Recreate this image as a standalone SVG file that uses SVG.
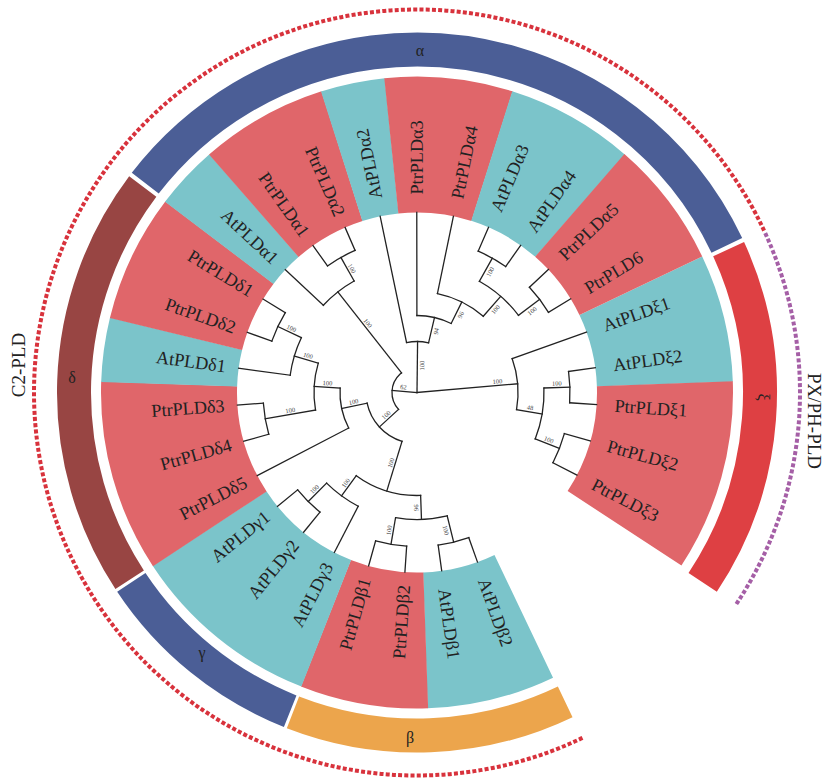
<svg xmlns="http://www.w3.org/2000/svg" width="823" height="780" viewBox="0 0 823 780">
<style>
.r{stroke:#e0666a;fill:none}
.c{stroke:#7bc4ca;fill:none}
.sec{stroke-width:136}
.band{stroke-width:34;fill:none}
.br line,.br circle{stroke:#222;stroke-width:1.3;fill:none;stroke-linecap:square}
.lf{font-family:"Liberation Serif",serif;font-size:18.2px;fill:#222;dominant-baseline:central}
.sp{font-family:"Liberation Serif",serif;font-size:6.5px;fill:#444;text-anchor:middle;dominant-baseline:central}
.bl{font-family:"Liberation Serif",serif;font-size:16px;fill:#222;text-anchor:middle;dominant-baseline:central}
.ot{font-family:"Liberation Serif",serif;font-size:19px;fill:#222;text-anchor:middle;dominant-baseline:central}
.dot{fill:none;stroke-width:4;stroke-dasharray:4 2.2}
</style>
<rect width="823" height="780" fill="#fff"/>
<!-- outer dotted arcs -->
<path class="dot" stroke="#d8323c" d="M582.5,737.9 A383,383 0 1 1 764.1,230.6"/>
<path class="dot" stroke="#a55fa6" d="M765.2,233.1 A383,383 0 0 1 735.3,605.6"/>
<text class="ot" transform="translate(18,365) rotate(-90)">C2-PLD</text>
<text class="ot" transform="translate(814,421) rotate(90)">PX/PH-PLD</text>
<!-- clade bands -->
<g id="bands" transform="translate(417,392.5)">
<circle class="band" r="343" stroke="#4b5e96" pathLength="360" stroke-dasharray="117.0 360" transform="rotate(217.6)"/>
<circle class="band" r="343" stroke="#984543" pathLength="360" stroke-dasharray="70.0 360" transform="rotate(146.9)"/>
<circle class="band" r="343" stroke="#4b5e96" pathLength="360" stroke-dasharray="34.7 360" transform="rotate(111.7)"/>
<circle class="band" r="343" stroke="#eca54c" pathLength="360" stroke-dasharray="46.8 360" transform="rotate(64.4)"/>
<circle class="band" r="343" stroke="#de4043" pathLength="360" stroke-dasharray="58.3 360" transform="rotate(-24.7)"/>
</g>
<g id="band-labels">
<text class="bl" x="420" y="50">α</text>
<text class="bl" x="72" y="377">δ</text>
<text class="bl" x="202" y="652">γ</text>
<text class="bl" x="410" y="737">β</text>
<text class="bl" transform="translate(763,397) rotate(90)">ξ</text>
</g>
<!-- colored sectors -->
<g id="sectors" transform="translate(417,392.5)">
<circle class="c sec" r="248" pathLength="360" stroke-dasharray="23.58 360" transform="rotate(-25.5)"/>
<circle class="r sec" r="248" pathLength="360" stroke-dasharray="35.22 360" transform="rotate(-2.02)"/>
<circle class="c sec" r="248" pathLength="360" stroke-dasharray="23.58 360" transform="rotate(64.5)"/>
<circle class="r sec" r="248" pathLength="360" stroke-dasharray="23.58 360" transform="rotate(87.98)"/>
<circle class="c sec" r="248" pathLength="360" stroke-dasharray="35.31 360" transform="rotate(111.46)"/>
<circle class="r sec" r="248" pathLength="360" stroke-dasharray="35.32 360" transform="rotate(146.67)"/>
<circle class="c sec" r="248" pathLength="360" stroke-dasharray="11.84 360" transform="rotate(181.89)"/>
<circle class="r sec" r="248" pathLength="360" stroke-dasharray="23.58 360" transform="rotate(193.63)"/>
<circle class="c sec" r="248" pathLength="360" stroke-dasharray="11.84 360" transform="rotate(217.11)"/>
<circle class="r sec" r="248" pathLength="360" stroke-dasharray="23.57 360" transform="rotate(228.85)"/>
<circle class="c sec" r="248" pathLength="360" stroke-dasharray="11.84 360" transform="rotate(252.32)"/>
<circle class="r sec" r="248" pathLength="360" stroke-dasharray="23.58 360" transform="rotate(264.06)"/>
<circle class="c sec" r="248" pathLength="360" stroke-dasharray="23.58 360" transform="rotate(287.54)"/>
<circle class="r sec" r="248" pathLength="360" stroke-dasharray="23.48 360" transform="rotate(311.02)"/>
</g>
<!-- leaves -->
<g transform="translate(417,392.5)">
<g id="AtPLDxi1"><text class="lf" x="198" transform="rotate(-19.63)">AtPLDξ1</text></g>
<g id="AtPLDxi2"><text class="lf" x="198" transform="rotate(-7.89)">AtPLDξ2</text></g>
<g id="PtrPLDxi1"><text class="lf" x="198" transform="rotate(3.85)">PtrPLDξ1</text></g>
<g id="PtrPLDxi2"><text class="lf" x="198" transform="rotate(15.59)">PtrPLDξ2</text></g>
<g id="PtrPLDxi3"><text class="lf" x="198" transform="rotate(27.33)">PtrPLDξ3</text></g>
<g id="AtPLDbeta2"><text class="lf" x="198" transform="rotate(70.37)">AtPLDβ2</text></g>
<g id="AtPLDbeta1"><text class="lf" x="198" transform="rotate(82.11)">AtPLDβ1</text></g>
<g id="PtrPLDbeta2"><text class="lf" x="-193" text-anchor="end" transform="rotate(-86.15)">PtrPLDβ2</text></g>
<g id="PtrPLDbeta1"><text class="lf" x="-193" text-anchor="end" transform="rotate(-74.41)">PtrPLDβ1</text></g>
<g id="AtPLDgamma3"><text class="lf" x="-193" text-anchor="end" transform="rotate(-62.67)">AtPLDγ3</text></g>
<g id="AtPLDgamma2"><text class="lf" x="-193" text-anchor="end" transform="rotate(-50.94)">AtPLDγ2</text></g>
<g id="AtPLDgamma1"><text class="lf" x="-193" text-anchor="end" transform="rotate(-39.2)">AtPLDγ1</text></g>
<g id="PtrPLDdelta5"><text class="lf" x="-193" text-anchor="end" transform="rotate(-27.46)">PtrPLDδ5</text></g>
<g id="PtrPLDdelta4"><text class="lf" x="-193" text-anchor="end" transform="rotate(-15.72)">PtrPLDδ4</text></g>
<g id="PtrPLDdelta3"><text class="lf" x="-193" text-anchor="end" transform="rotate(-3.98)">PtrPLDδ3</text></g>
<g id="AtPLDdelta1"><text class="lf" x="-193" text-anchor="end" transform="rotate(7.76)">AtPLDδ1</text></g>
<g id="PtrPLDdelta2"><text class="lf" x="-193" text-anchor="end" transform="rotate(19.5)">PtrPLDδ2</text></g>
<g id="PtrPLDdelta1"><text class="lf" x="-193" text-anchor="end" transform="rotate(31.24)">PtrPLDδ1</text></g>
<g id="AtPLDalpha1"><text class="lf" x="-193" text-anchor="end" transform="rotate(42.98)">AtPLDα1</text></g>
<g id="PtrPLDalpha1"><text class="lf" x="-193" text-anchor="end" transform="rotate(54.72)">PtrPLDα1</text></g>
<g id="PtrPLDalpha2"><text class="lf" x="-193" text-anchor="end" transform="rotate(66.46)">PtrPLDα2</text></g>
<g id="AtPLDalpha2"><text class="lf" x="198" transform="rotate(258.19)">AtPLDα2</text></g>
<g id="PtrPLDalpha3"><text class="lf" x="198" transform="rotate(269.93)">PtrPLDα3</text></g>
<g id="PtrPLDalpha4"><text class="lf" x="198" transform="rotate(281.67)">PtrPLDα4</text></g>
<g id="AtPLDalpha3"><text class="lf" x="198" transform="rotate(293.41)">AtPLDα3</text></g>
<g id="AtPLDalpha4"><text class="lf" x="198" transform="rotate(305.15)">AtPLDα4</text></g>
<g id="PtrPLDalpha5"><text class="lf" x="198" transform="rotate(316.89)">PtrPLDα5</text></g>
<g id="PtrPLD6"><text class="lf" x="198" transform="rotate(328.63)">PtrPLD6</text></g>
</g>
<!-- tree connectors -->
<g id="connectors" class="br" transform="translate(417,392.5)">
<line x1="0" x2="101" transform="rotate(-4.94)"/>
<circle r="101" pathLength="360" stroke-dasharray="29.38 360" transform="rotate(-19.63)"/>
<line x1="101" x2="180" transform="rotate(-19.63)"/>
<line x1="101" x2="127" transform="rotate(9.75)"/>
<circle r="127" pathLength="360" stroke-dasharray="23.48 360" transform="rotate(-2.02)"/>
<line x1="127" x2="153" transform="rotate(-2.02)"/>
<circle r="153" pathLength="360" stroke-dasharray="11.74 360" transform="rotate(-7.89)"/>
<line x1="153" x2="180" transform="rotate(-7.89)"/>
<line x1="153" x2="180" transform="rotate(3.85)"/>
<line x1="127" x2="153" transform="rotate(21.46)"/>
<circle r="153" pathLength="360" stroke-dasharray="11.74 360" transform="rotate(15.59)"/>
<line x1="153" x2="180" transform="rotate(15.59)"/>
<line x1="153" x2="180" transform="rotate(27.33)"/>
<line x1="0" x2="51" transform="rotate(270.66)"/>
<circle r="51" pathLength="360" stroke-dasharray="24.95 360" transform="rotate(258.19)"/>
<line x1="51" x2="180" transform="rotate(258.19)"/>
<line x1="51" x2="77" transform="rotate(283.14)"/>
<circle r="77" pathLength="360" stroke-dasharray="26.42 360" transform="rotate(269.93)"/>
<line x1="77" x2="180" transform="rotate(269.93)"/>
<line x1="77" x2="101" transform="rotate(296.35)"/>
<circle r="101" pathLength="360" stroke-dasharray="29.35 360" transform="rotate(281.67)"/>
<line x1="101" x2="180" transform="rotate(281.67)"/>
<line x1="101" x2="127.5" transform="rotate(311.02)"/>
<circle r="127.5" pathLength="360" stroke-dasharray="23.48 360" transform="rotate(299.28)"/>
<line x1="127.5" x2="154" transform="rotate(299.28)"/>
<line x1="127.5" x2="154" transform="rotate(322.76)"/>
<circle r="154" pathLength="360" stroke-dasharray="11.74 360" transform="rotate(293.41)"/>
<line x1="154" x2="180" transform="rotate(293.41)"/>
<line x1="154" x2="180" transform="rotate(305.15)"/>
<circle r="154" pathLength="360" stroke-dasharray="11.74 360" transform="rotate(316.89)"/>
<line x1="154" x2="180" transform="rotate(316.89)"/>
<line x1="154" x2="180" transform="rotate(328.63)"/>
<line x1="0" x2="25" transform="rotate(184.65)"/>
<circle r="25" pathLength="360" stroke-dasharray="94.29 360" transform="rotate(137.5)"/>
<line x1="25" x2="128" transform="rotate(231.79)"/>
<circle r="128" pathLength="360" stroke-dasharray="17.61 360" transform="rotate(222.98)"/>
<line x1="128" x2="180" transform="rotate(222.98)"/>
<line x1="128" x2="155" transform="rotate(240.59)"/>
<circle r="155" pathLength="360" stroke-dasharray="11.74 360" transform="rotate(234.72)"/>
<line x1="155" x2="180" transform="rotate(234.72)"/>
<line x1="155" x2="180" transform="rotate(246.46)"/>
<line x1="25" x2="51" transform="rotate(137.5)"/>
<circle r="51" pathLength="360" stroke-dasharray="60.89 360" transform="rotate(107.06)"/>
<line x1="51" x2="77" transform="rotate(167.95)"/>
<circle r="77" pathLength="360" stroke-dasharray="30.82 360" transform="rotate(152.54)"/>
<line x1="77" x2="180" transform="rotate(152.54)"/>
<line x1="77" x2="103" transform="rotate(183.36)"/>
<circle r="103" pathLength="360" stroke-dasharray="26.42 360" transform="rotate(170.15)"/>
<line x1="103" x2="154" transform="rotate(170.15)"/>
<circle r="154" pathLength="360" stroke-dasharray="11.74 360" transform="rotate(164.28)"/>
<line x1="154" x2="180" transform="rotate(164.28)"/>
<line x1="154" x2="180" transform="rotate(176.02)"/>
<line x1="103" x2="128" transform="rotate(196.57)"/>
<circle r="128" pathLength="360" stroke-dasharray="17.61 360" transform="rotate(187.76)"/>
<line x1="128" x2="180" transform="rotate(187.76)"/>
<line x1="128" x2="154" transform="rotate(205.37)"/>
<circle r="154" pathLength="360" stroke-dasharray="11.74 360" transform="rotate(199.5)"/>
<line x1="154" x2="180" transform="rotate(199.5)"/>
<line x1="154" x2="180" transform="rotate(211.24)"/>
<line x1="51" x2="103" transform="rotate(107.06)"/>
<circle r="103" pathLength="360" stroke-dasharray="38.15 360" transform="rotate(87.98)"/>
<line x1="103" x2="128" transform="rotate(126.13)"/>
<circle r="128" pathLength="360" stroke-dasharray="17.6 360" transform="rotate(117.33)"/>
<line x1="128" x2="180" transform="rotate(117.33)"/>
<line x1="128" x2="154" transform="rotate(134.93)"/>
<circle r="154" pathLength="360" stroke-dasharray="11.74 360" transform="rotate(129.06)"/>
<line x1="154" x2="180" transform="rotate(129.06)"/>
<line x1="154" x2="180" transform="rotate(140.8)"/>
<line x1="103" x2="127" transform="rotate(87.98)"/>
<circle r="127" pathLength="360" stroke-dasharray="23.48 360" transform="rotate(76.24)"/>
<line x1="127" x2="154" transform="rotate(99.72)"/>
<circle r="154" pathLength="360" stroke-dasharray="11.74 360" transform="rotate(93.85)"/>
<line x1="154" x2="180" transform="rotate(93.85)"/>
<line x1="154" x2="180" transform="rotate(105.59)"/>
<line x1="127" x2="154" transform="rotate(76.24)"/>
<circle r="154" pathLength="360" stroke-dasharray="11.74 360" transform="rotate(70.37)"/>
<line x1="154" x2="180" transform="rotate(70.37)"/>
<line x1="154" x2="180" transform="rotate(82.11)"/>
</g>
<!-- support values -->
<g id="support">
<text class="sp" transform="translate(417,392.5) rotate(-4.94) translate(81,-4.5)">100</text>
<text class="sp" transform="translate(417,392.5) rotate(9.75) translate(114,-4.5)">48</text>
<text class="sp" transform="translate(417,392.5) rotate(-2.02) translate(140,-4.5)">100</text>
<text class="sp" transform="translate(417,392.5) rotate(21.46) translate(140,-4.5)">100</text>
<text class="sp" transform="translate(417,392.5) rotate(270.66) translate(27,4.5)">100</text>
<text class="sp" transform="translate(417,392.5) rotate(283.14) translate(64,4.5)">94</text>
<text class="sp" transform="translate(417,392.5) rotate(296.35) translate(89,4.5)">96</text>
<text class="sp" transform="translate(417,392.5) rotate(311.02) translate(114,4.5)">100</text>
<text class="sp" transform="translate(417,392.5) rotate(299.28) translate(141,4.5)">100</text>
<text class="sp" transform="translate(417,392.5) rotate(322.76) translate(141,4.5)">100</text>
<text class="sp" transform="translate(417,392.5) rotate(184.65) translate(14,4.5) rotate(180)">62</text>
<text class="sp" transform="translate(417,392.5) rotate(231.79) translate(85,4.5) rotate(180)">100</text>
<text class="sp" transform="translate(417,392.5) rotate(240.59) translate(140,4.5) rotate(180)">100</text>
<text class="sp" transform="translate(417,392.5) rotate(137.5) translate(38,4.5) rotate(180)">100</text>
<text class="sp" transform="translate(417,392.5) rotate(167.95) translate(64,4.5) rotate(180)">100</text>
<text class="sp" transform="translate(417,392.5) rotate(183.36) translate(90,4.5) rotate(180)">100</text>
<text class="sp" transform="translate(417,392.5) rotate(170.15) translate(128,4.5) rotate(180)">100</text>
<text class="sp" transform="translate(417,392.5) rotate(196.57) translate(115,4.5) rotate(180)">100</text>
<text class="sp" transform="translate(417,392.5) rotate(205.37) translate(141,4.5) rotate(180)">100</text>
<text class="sp" transform="translate(417,392.5) rotate(107.06) translate(75,4.5) rotate(180)">100</text>
<text class="sp" transform="translate(417,392.5) rotate(126.13) translate(115,4.5) rotate(180)">100</text>
<text class="sp" transform="translate(417,392.5) rotate(134.93) translate(141,4.5) rotate(180)">100</text>
<text class="sp" transform="translate(417,392.5) rotate(87.98) translate(115,4.5)">96</text>
<text class="sp" transform="translate(417,392.5) rotate(99.72) translate(140.5,4.5) rotate(180)">100</text>
<text class="sp" transform="translate(417,392.5) rotate(76.24) translate(140.5,4.5)">100</text>
</g>
</svg>
